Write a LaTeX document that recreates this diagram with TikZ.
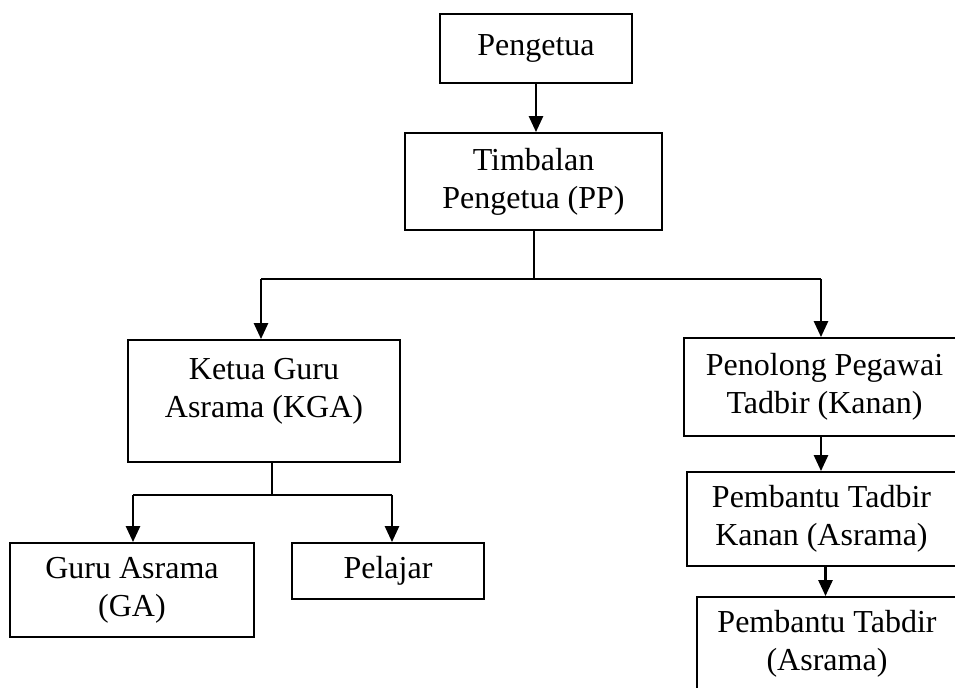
\documentclass[tikz,border=0pt]{standalone}
\usepackage{fontspec}
\setmainfont{Liberation Serif}
\usepackage{tikz}
\usetikzlibrary{arrows.meta,positioning}

\begin{document}
\begin{tikzpicture}[x=0.5pt, y=-0.5pt, >={Triangle[length=8pt,width=7pt]},
  every node/.style={font=\fontsize{16}{19}\selectfont}]
\tikzstyle{box}=[draw, line width=0.9pt, align=center, inner sep=2pt]
\tikzstyle{link}=[line width=1pt]
\tikzstyle{arr}=[->, line width=1.3pt]
\useasboundingbox (0,0) rectangle (955,688);

% top of the chart
\node[box, minimum width=96pt, minimum height=34.5pt] (peng) at (536,48.5) {Pengetua};
\node[box, minimum width=128.5pt, minimum height=48.5pt] (pp) at (533.5,181.5) {Timbalan\\Pengetua (PP)};
\draw[arr] (peng.south) -- (peng.south |- pp.north);

% hostel side
\node[box, minimum width=136pt, minimum height=61pt, text depth=13pt] (kga) at (264,401) {Ketua Guru\\Asrama (KGA)};
\node[box, minimum width=122pt, minimum height=47pt] (ga) at (132,590) {Guru Asrama\\(GA)};
\node[box, minimum width=96pt, minimum height=28pt] (pel) at (388,571) {Pelajar};

% office side
\node[box, minimum width=140.5pt, minimum height=49pt] (gov) at (824.5,387) {Penolong Pegawai\\Tadbir (Kanan)};
\node[box, minimum width=134.5pt, minimum height=47pt] (ptk) at (821.5,519) {Pembantu Tadbir\\Kanan (Asrama)};
\node[box, minimum width=130pt, minimum height=47pt] (pta) at (827,644) {Pembantu Tabdir\\(Asrama)};

% connectors
\coordinate (busL) at (261,279);
\coordinate (busR) at (821,279);
\draw[link] (pp.south) -- (pp.south |- busL);
\draw[link] (busL) -- (busR);
\draw[arr] (busL) -- (busL |- kga.north);
\draw[arr] (busR) -- (busR |- gov.north);

\coordinate (subL) at (133,495);
\coordinate (subR) at (392,495);
\draw[link] ([xshift=4pt]kga.south) -- ([xshift=4pt]kga.south |- subL);
\draw[link] (subL) -- (subR);
\draw[arr] (subL) -- (subL |- ga.north);
\draw[arr] (subR) -- (subR |- pel.north);

\draw[arr] (busR |- gov.south) -- (busR |- ptk.north);
\draw[arr] ([xshift=2pt]ptk.south) -- ([xshift=2pt]ptk.south |- pta.north);
\end{tikzpicture}
\end{document}
